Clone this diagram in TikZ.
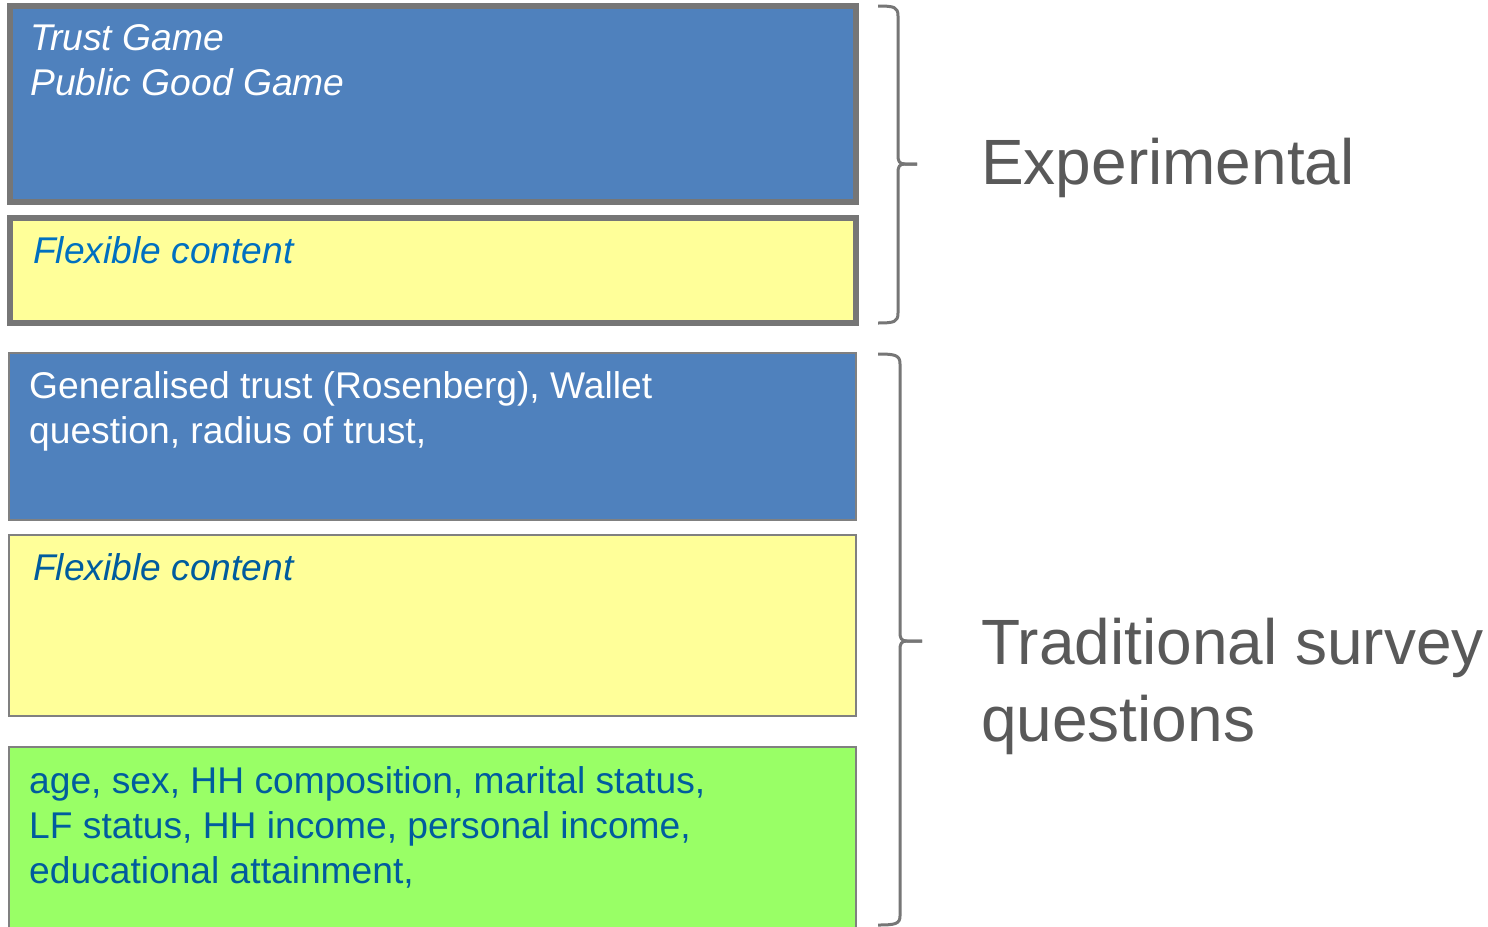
\documentclass[tikz,border=0pt]{standalone}
\usepackage{fontspec}
\setmainfont{Liberation Sans}
\definecolor{boxblue}{HTML}{4F81BD}
\definecolor{boxyellow}{HTML}{FFFF99}
\definecolor{boxgreen}{HTML}{99FF66}
\definecolor{bordergray}{HTML}{767676}
\definecolor{thingray}{HTML}{808080}
\definecolor{labelgray}{HTML}{595959}
\definecolor{flexblue}{HTML}{0070C0}
\definecolor{darkblue}{HTML}{005C9E}
\begin{document}
\begin{tikzpicture}[x=1pt,y=-1pt,
  boxthick/.style={draw=bordergray, line width=6pt, inner sep=0pt, outer sep=0pt, anchor=north west},
  boxthin/.style={draw=thingray, line width=1.5pt, inner sep=0pt, outer sep=0pt, anchor=north west},
  boxtext/.style={anchor=north west, inner sep=0pt, align=left, font=\fontsize{37.2}{45}\selectfont},
  sidelabel/.style={anchor=north west, inner sep=0pt, align=left, text=labelgray, font=\fontsize{64}{77}\selectfont},
  brace/.style={draw=bordergray, line width=3pt, line join=round}]
\useasboundingbox (0,0) rectangle (1488,926);
\clip (0,0) rectangle (1488,926);
\fill[white] (0,0) rectangle (1488,926);

% boxes
\node[boxthick, fill=boxblue, minimum width=846.5pt, minimum height=196pt] (b1) at (9.5,6) {};
\node[boxthick, fill=boxyellow, minimum width=846.5pt, minimum height=105pt] (b2) at (9.5,218) {};
\node[boxthin, fill=boxblue, minimum width=847pt, minimum height=167pt] (b3) at (9,353) {};
\node[boxthin, fill=boxyellow, minimum width=847pt, minimum height=181pt] (b4) at (9,535) {};
\node[boxthin, fill=boxgreen, minimum width=847pt, minimum height=220pt] (b5) at (9,747) {};

% box texts
\node[boxtext, text=white, font=\fontsize{37.2}{45}\selectfont\itshape] (t1) at (30,24.5) {Trust Game\\Public Good Game};
\node[boxtext, text=flexblue, font=\fontsize{37.2}{45}\selectfont\itshape] (t2) at (33,236.5) {Flexible content};
\node[boxtext, text=white] (t3) at (29,371.5) {Generalised trust (Rosenberg), Wallet\\question, radius of trust,};
\node[boxtext, text=darkblue, font=\fontsize{37.2}{45}\selectfont\itshape] (t4) at (33,553.5) {Flexible content};
\node[boxtext, text=darkblue] (t5) at (29,766.5) {age, sex, HH composition, marital status,\\LF status, HH income, personal income,\\educational attainment,};

% side labels
\node[sidelabel] (l1) at (981,137.5) {Experimental};
\node[sidelabel] (l2) at (981,617.5) {Traditional survey\\questions};

% braces
\coordinate (e1top) at (878,6);
\coordinate (e1tip) at (917,164);
\coordinate (e1bot) at (878,323);
\draw[brace] (e1top) .. controls (894,6) and (898,7) .. (898,16) -- (898,155)
  .. controls (898,161) and (899,164) .. (905,164) -- (e1tip);
\draw[brace] (e1tip) -- (905,164) .. controls (899,164) and (898,167) .. (898,173)
  -- (898,313) .. controls (898,322) and (894,323) .. (e1bot);

\coordinate (e2top) at (878,354);
\coordinate (e2tip) at (922,641);
\coordinate (e2bot) at (878,925);
\draw[brace] (e2top) .. controls (895,354) and (900,355) .. (900,364) -- (900,632)
  .. controls (900,638) and (901,641) .. (907,641) -- (e2tip);
\draw[brace] (e2tip) -- (907,641) .. controls (901,641) and (900,644) .. (900,650)
  -- (900,916) .. controls (900,924) and (895,925) .. (e2bot);
\end{tikzpicture}
\end{document}
